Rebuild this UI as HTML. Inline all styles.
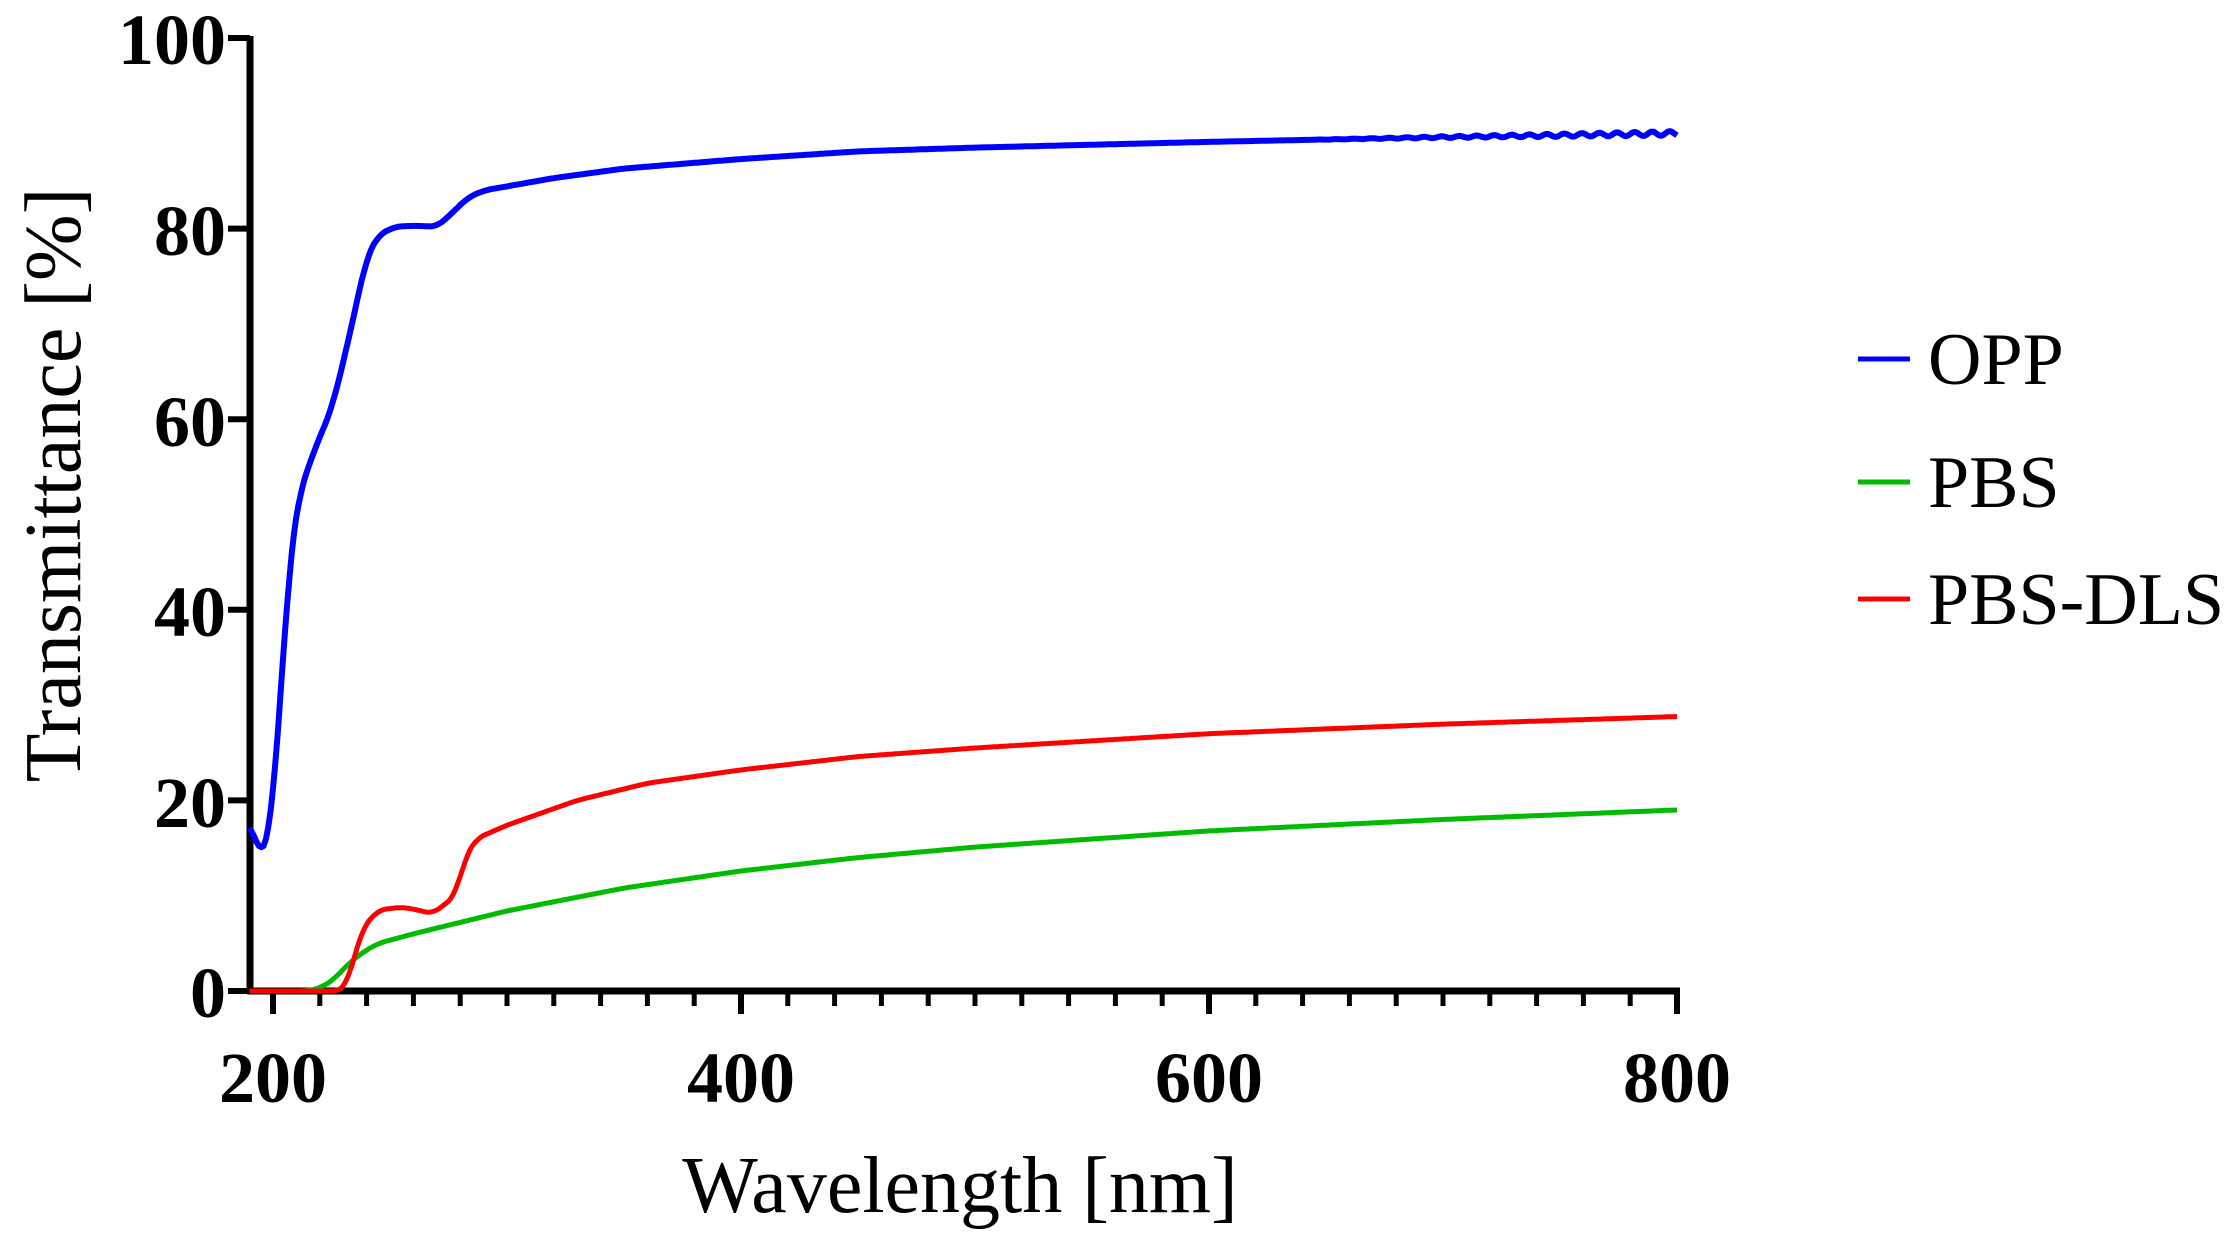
<!DOCTYPE html>
<html><head><meta charset="utf-8"><style>
html,body{margin:0;padding:0;background:#fff;}
svg{display:block;}
</style></head><body>
<svg id="s" width="2236" height="1237" viewBox="0 0 2236 1237" xmlns="http://www.w3.org/2000/svg">
<g id="g"></g>
<g font-family="Liberation Serif, serif" font-weight="bold" font-size="72" fill="#000">
<text x="226" y="64" text-anchor="end">100</text>
<text x="226" y="255" text-anchor="end">80</text>
<text x="226" y="446" text-anchor="end">60</text>
<text x="226" y="636" text-anchor="end">40</text>
<text x="226" y="827" text-anchor="end">20</text>
<text x="226" y="1017" text-anchor="end">0</text>
<text x="273" y="1102" text-anchor="middle">200</text>
<text x="741" y="1102" text-anchor="middle">400</text>
<text x="1209" y="1102" text-anchor="middle">600</text>
<text x="1677" y="1102" text-anchor="middle">800</text>
</g>
<g font-family="Liberation Serif, serif" font-size="80" fill="#000">
<text x="960" y="1212" text-anchor="middle">Wavelength [nm]</text>
<text transform="translate(80,485) rotate(-90)" text-anchor="middle">Transmittance [%]</text>
</g>
<g font-family="Liberation Serif, serif" font-size="74" fill="#000">
<text x="1928" y="384">OPP</text>
<text x="1928" y="507">PBS</text>
<text x="1928" y="624">PBS-DLS</text>
</g>
<line x1="1858" y1="359" x2="1910" y2="359" stroke="#0000ff" stroke-width="5"/>
<line x1="1858" y1="482" x2="1910" y2="482" stroke="#00bb00" stroke-width="5"/>
<line x1="1858" y1="599" x2="1910" y2="599" stroke="#ff0000" stroke-width="5"/>
</svg>
<script>
var NS="http://www.w3.org/2000/svg",g=document.getElementById('g');
function X(n){return 273+(n-200)*2.34;}
function Y(v){return 991-v*9.53;}
function el(t,a){var e=document.createElementNS(NS,t);for(var k in a)e.setAttribute(k,a[k]);g.appendChild(e);return e;}
el('line',{x1:250,y1:36,x2:250,y2:994,stroke:'#000','stroke-width':7});
el('line',{x1:247,y1:991,x2:1680,y2:991,stroke:'#000','stroke-width':7});
for(var i=0;i<=5;i++){el('line',{x1:228,y1:Y(i*20),x2:250,y2:Y(i*20),stroke:'#000','stroke-width':6});}
for(var n=200;n<=800;n+=20){var maj=(n%200==0);el('line',{x1:X(n),y1:991,x2:X(n),y2:maj?1014:1006,stroke:'#000','stroke-width':maj?6:5});}
function lin(pts,n){for(var i=0;i<pts.length-1;i++){if(n<=pts[i+1][0]){var a=pts[i],b=pts[i+1];var t=(n-a[0])/(b[0]-a[0]);return a[1]+(b[1]-a[1])*t;}}return pts[pts.length-1][1];}
function interp(pts,n){var s=0,c=0;for(var k=-3;k<=3;k++){s+=lin(pts,Math.max(190,n+k));c++;}return s/c;}
function path(pts,col,w,wig){var d='';for(var n=190;n<=800;n+=1){var v=interp(pts,n);if(wig&&n>640)v+=Math.sin(n/7.5*2*Math.PI)*0.25*(n-640)/160;d+=(d?'L':'M')+X(n).toFixed(1)+','+Y(v).toFixed(1);}el('path',{d:d,fill:'none',stroke:col,'stroke-width':w,'stroke-linejoin':'round'});}
path([[190,0],[214,0],[220,0.3],[226,1.2],[232,2.8],[238,4],[245,5],[260,6],[300,8.4],[350,10.8],[400,12.6],[450,14],[500,15.1],[600,16.8],[700,18],[800,19]],'#00bb00',5);
path([[190,0],[229,0],[232,1],[238,6.5],[245,8.5],[255,8.8],[262,8.5],[268,8.1],[274,9.2],[278,10],[282,14],[287,16],[300,17.4],[330,20],[360,21.8],[400,23.2],[450,24.6],[500,25.5],[600,27],[700,28],[800,28.8]],'#ff0000',5);
path([[190,18],[193,15],[196,14.2],[199,17],[203,30],[207,45],[211,52],[218,57],[225,61],[232,68],[240,77],[245,79.3],[252,80.2],[260,80.3],[270,80.2],[276,81.5],[283,83.2],[290,84],[320,85.3],[350,86.3],[400,87.3],[450,88.1],[500,88.5],[600,89.1],[700,89.6],[800,90]],'#0000ff',6,true);
</script>
</body></html>
